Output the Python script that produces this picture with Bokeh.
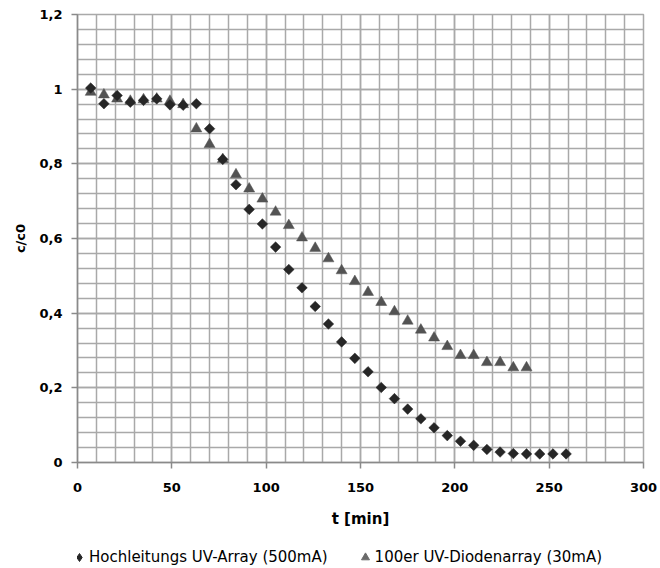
from bokeh.plotting import figure
from bokeh.models import Range1d, FixedTicker, Legend, LegendItem
from bokeh.layouts import column
from bokeh.embed import file_html
from bokeh.resources import INLINE
import numpy as np

# Abbau c/c0 über die Zeit für zwei UV-Quellen
t_hoch = [7, 14, 21, 28, 35, 42, 49, 56, 63, 70, 77, 84, 91, 98, 105, 112, 119,
          126, 133, 140, 147, 154, 161, 168, 175, 182, 189, 196, 203, 210, 217,
          224, 231, 238, 245, 252, 259]
c_hoch = [1.003, 0.961, 0.983, 0.965, 0.970, 0.974, 0.958, 0.957, 0.961, 0.894,
          0.812, 0.744, 0.678, 0.639, 0.577, 0.517, 0.468, 0.418, 0.371, 0.323,
          0.279, 0.243, 0.201, 0.171, 0.143, 0.117, 0.093, 0.072, 0.057, 0.046,
          0.035, 0.028, 0.024, 0.023, 0.023, 0.023, 0.023]

t_dio = [7, 14, 21, 28, 35, 42, 49, 56, 63, 70, 77, 84, 91, 98, 105, 112, 119,
         126, 133, 140, 147, 154, 161, 168, 175, 182, 189, 196, 203, 210, 217,
         224, 231, 238]
c_dio = [0.992, 0.985, 0.974, 0.968, 0.972, 0.974, 0.968, 0.959, 0.894, 0.852,
         0.812, 0.771, 0.733, 0.706, 0.671, 0.635, 0.602, 0.574, 0.546, 0.514,
         0.485, 0.456, 0.429, 0.404, 0.379, 0.355, 0.334, 0.311, 0.287, 0.287,
         0.268, 0.268, 0.254, 0.254]

label_hoch = "Hochleitungs UV-Array (500mA)"
label_dio = "100er UV-Diodenarray (30mA)"

x_ticks = [0, 50, 100, 150, 200, 250, 300]
x_minor = list(range(0, 301, 10))
y_ticks = [0, 0.2, 0.4, 0.6, 0.8, 1.0, 1.2]
y_tick_labels = ["0", "0,2", "0,4", "0,6", "0,8", "1", "1,2"]
y_minor = [round(i * 0.04, 2) for i in range(31)]

FONT = "DejaVu Sans"
GRID = "#a9a9a9"
AXIS = "#8a8a8a"
C_HOCH = "#262626"
C_DIO = "#535353"

p = figure(width=660, height=532, x_range=Range1d(0, 300), y_range=Range1d(0, 1.2),
           output_backend="svg", toolbar_location=None,
           min_border_left=77, min_border_right=17, min_border_top=14,
           min_border_bottom=70)
p.background_fill_color = "white"
p.border_fill_color = "white"
p.outline_line_color = GRID
p.outline_line_width = 1.5

p.xaxis.ticker = FixedTicker(ticks=x_ticks, minor_ticks=x_minor)
p.yaxis.ticker = FixedTicker(ticks=y_ticks, minor_ticks=y_minor)
p.yaxis.major_label_overrides = dict(zip(y_ticks, y_tick_labels))

for g in (p.xgrid, p.ygrid):
    g.grid_line_color = GRID
    g.grid_line_width = 1.5
    g.minor_grid_line_color = GRID
    g.minor_grid_line_width = 1.5

for ax in (p.xaxis, p.yaxis):
    ax.axis_line_color = AXIS
    ax.axis_line_width = 1.5
    ax.major_tick_line_color = AXIS
    ax.major_tick_line_width = 1.5
    ax.major_tick_out = 6
    ax.major_tick_in = 0
    ax.minor_tick_out = 0
    ax.minor_tick_in = 0
    ax.major_label_text_font = FONT
    ax.major_label_text_font_style = "bold"
    ax.major_label_text_font_size = "13px"
    ax.major_label_text_color = "black"
    ax.axis_label_text_font = FONT
    ax.axis_label_text_font_style = "bold"
    ax.axis_label_text_color = "black"

p.xaxis.axis_label = "t [min]"
p.xaxis.axis_label_text_font_size = "15px"
p.xaxis.major_label_standoff = 14
p.xaxis.axis_label_standoff = 15
p.yaxis.axis_label = "c/c0"
p.yaxis.axis_label_text_font_size = "13px"
p.yaxis.major_label_standoff = 9
p.yaxis.axis_label_standoff = 8

p.scatter(t_dio, c_dio, marker="triangle", size=11,
          fill_color=C_DIO, line_color=C_DIO, line_width=0.5)
p.scatter(t_hoch, c_hoch, marker="square", angle=np.pi / 4, size=7.5,
          fill_color=C_HOCH, line_color=C_HOCH, line_width=0.5)

# Legend strip below the chart; its key renderers sit outside the strip's view
lg = figure(width=660, height=36, x_range=Range1d(0, 300), y_range=Range1d(5, 6),
            output_backend="svg", toolbar_location=None,
            x_axis_location=None, y_axis_location=None, min_border=0,
            min_border_left=0, min_border_right=0, min_border_top=0,
            min_border_bottom=0)
lg.outline_line_color = None
lg.xgrid.visible = False
lg.ygrid.visible = False
lg.background_fill_color = "white"
lg.border_fill_color = "white"

key_hoch = lg.scatter(t_hoch, c_hoch, marker="diamond",
                      fill_color=C_HOCH, line_color=C_HOCH)
key_dio = lg.scatter(t_dio, c_dio, marker="triangle",
                     fill_color="#6a6a6a", line_color="#6a6a6a")

legend = Legend(items=[LegendItem(label=label_hoch, renderers=[key_hoch]),
                       LegendItem(label=label_dio, renderers=[key_dio])],
                location=(-8, 1), orientation="horizontal",
                glyph_width=20, glyph_height=20, label_standoff=0, spacing=27,
                padding=0, margin=0, border_line_color=None,
                background_fill_alpha=0, label_text_font=FONT,
                label_text_font_size="15px", label_text_color="black")
lg.add_layout(legend)

open("out.html", "w").write(file_html(column(p, lg, spacing=0), INLINE))
